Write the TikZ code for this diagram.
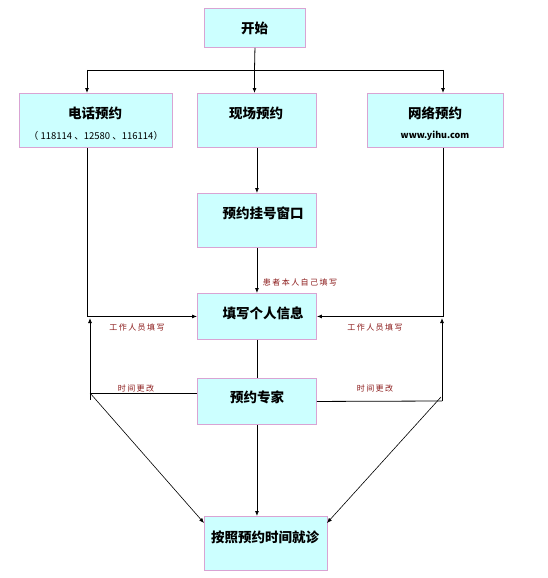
\documentclass[tikz,border=0pt]{standalone}
\usepackage{fontspec}
\setmainfont{Noto Sans CJK SC}
\usetikzlibrary{arrows.meta}
\definecolor{boxfill}{HTML}{CCFFFF}
\definecolor{boxline}{HTML}{D9A3D3}
\definecolor{lab}{HTML}{8B1A1A}
\begin{document}
\begin{tikzpicture}[x=1pt,y=-1pt,
 box/.style={draw=boxline,fill=boxfill,line width=0.9pt,inner sep=0,anchor=north west},
 ttl/.style={font=\fontsize{13.5}{15}\selectfont\bfseries, inner sep=0},
 sub/.style={font=\fontsize{9.5}{11}\selectfont, inner sep=0},
 lbl/.style={font=\fontsize{8}{9}\selectfont\addfontfeatures{LetterSpace=18}, text=lab, inner sep=0},
 arr/.style={-{Latex[length=5pt,width=4pt]}, line width=0.8pt},
 ln/.style={line width=0.8pt}]
\useasboundingbox (0,0) rectangle (547,578);
\fill[white] (0,0) rectangle (547,578);
% boxes
\node[box, minimum width=101pt, minimum height=39pt] (start) at (204,8) {};
\node[ttl] (start-t) at (254.5,28) {开始};
\node[box, minimum width=153pt, minimum height=54pt] (tel) at (19,93) {};
\node[ttl] (tel-t) at (95,113) {电话预约};
\node[sub] (tel-s) at (96,136) {（ 118114 、12580 、116114）};
\node[box, minimum width=119pt, minimum height=54pt] (site) at (197,93) {};
\node[ttl] (site-t) at (256,113) {现场预约};
\node[box, minimum width=136pt, minimum height=54pt] (web) at (367,93) {};
\node[ttl] (web-t) at (435,113) {网络预约};
\node[sub, font=\fontsize{9}{10}\selectfont\bfseries] (web-s) at (435,136) {www.yihu.com};
\node[box, minimum width=119pt, minimum height=54pt] (win) at (197,193) {};
\node[ttl] (win-t) at (263,213) {预约挂号窗口};
\node[box, minimum width=119pt, minimum height=46pt] (fill) at (197,293) {};
\node[ttl] (fill-t) at (263,313) {填写个人信息};
\node[box, minimum width=119pt, minimum height=46pt] (exp) at (197,378) {};
\node[ttl] (exp-t) at (257,397) {预约专家};
\node[box, minimum width=123pt, minimum height=54pt] (visit) at (204,516) {};
\node[ttl] (visit-t) at (265,537) {按照预约时间就诊};
% coordinates
\coordinate (split) at (254.5,70);
\coordinate (tl) at (87,70);
\coordinate (tr) at (443,70);
\coordinate (ll) at (90,393);
\coordinate (lb) at (90,400);
\coordinate (lt) at (90,318);
\coordinate (rr) at (442,401);
\coordinate (rt) at (442,318);
\coordinate (rd) at (441,397);
\coordinate (vl) at (204,523);
\coordinate (vr) at (327,523);
% connectors
\draw[ln] (start.south) -- (split);
\draw[ln] (tl) -- (tr);
\draw[arr] (tl) -- (tl |- tel.north);
\draw[arr] (split) -- (split |- site.north);
\draw[arr] (tr) -- (tr |- web.north);
\draw[arr] (tel.south -| tl) |- (fill.west);
\draw[arr] (web.south -| tr) |- (fill.east);
\draw[arr] (site.south) -- (win.north);
\draw[arr] (win.south) -- (fill.north);
\draw[ln] (fill.south) -- (exp.north);
\draw[arr] (exp.south) -- (exp.south |- visit.north);
\draw[ln] (ll) -- (ll -| exp.west);
\draw[arr] (lb) -- (lt);
\draw[arr, line width=0.6pt] (ll) -- (vl);
\draw[ln] (exp.east) -- (rr);
\draw[arr] (rr) -- (rt);
\draw[arr, line width=0.6pt] (rd) -- (vr);
% labels
\node[lbl] (l1) at (300,282) {患者本人自己填写};
\node[lbl] (l2) at (137,327) {工作人员填写};
\node[lbl] (l3) at (375,327) {工作人员填写};
\node[lbl] (l4) at (136,388) {时间更改};
\node[lbl] (l5) at (375,388) {时间更改};
\end{tikzpicture}
\end{document}
